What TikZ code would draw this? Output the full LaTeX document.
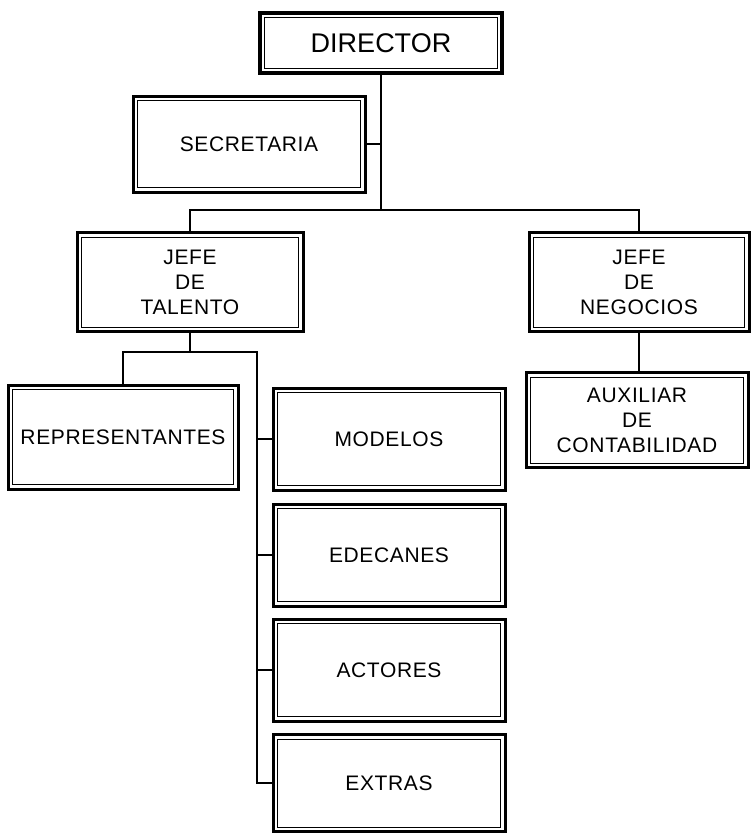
\documentclass[tikz,border=0pt]{standalone}
\usepackage{fontspec}
\setmainfont{Liberation Sans}
\newfontfamily\cajafont[LetterSpace=3]{Liberation Sans}
\begin{document}
\begin{tikzpicture}[x=1pt,y=-1pt,
		caja/.style={draw, line width=3pt, minimum width=230pt, minimum height=100pt, align=center, inner sep=0pt,
			font=\cajafont\fontsize{21}{25}\selectfont,
			path picture={\draw[line width=0.8pt] ([shift={(4.5pt,4.5pt)}]path picture bounding box.south west) rectangle ([shift={(-4.5pt,-4.5pt)}]path picture bounding box.north east);}},
		linea/.style={line width=1.1pt}]
		\useasboundingbox (0,0) rectangle (750,835);

		\node[caja, line width=3.6pt, minimum width=242pt, minimum height=60pt, font=\fontsize{27}{30}\selectfont] (director) at (381,43) {DIRECTOR};
		\node[caja, minimum width=232pt, minimum height=96pt] (secretaria) at (249,144) {SECRETARIA};
		\node[caja, minimum width=226pt, minimum height=99pt] (talento) at (190,282) {JEFE\\DE\\TALENTO};
		\node[caja, minimum width=220pt, minimum height=99pt] (negocios) at (639,282) {JEFE\\DE\\NEGOCIOS};
		\node[caja, minimum width=222pt, minimum height=95pt] (auxiliar) at (637,420) {AUXILIAR\\DE\\CONTABILIDAD};
		\node[caja, minimum height=104pt] (representantes) at (123,437) {REPRESENTANTES};
		\node[caja, minimum width=232pt, minimum height=102pt] (modelos) at (389,439) {MODELOS};
		\node[caja, minimum width=232pt, minimum height=102pt] (edecanes) at (389,555) {EDECANES};
		\node[caja, minimum width=232pt, minimum height=102pt] (actores) at (389,670) {ACTORES};
		\node[caja, minimum width=232pt, minimum height=97pt] (extras) at (389,783) {EXTRAS};

		\coordinate (barra) at (381,210);
		\coordinate (espina) at (257,352);

		\draw[linea] (director.south) -- (barra);
		\draw[linea] (secretaria.east) -- (secretaria.east -| director.south);
		\draw[linea] (talento.north) |- (barra) -| (negocios.north);
		\draw[linea] (negocios.south) -- (negocios.south |- auxiliar.north);
		\draw[linea] (talento.south) -- (talento.south |- espina);
		\draw[linea] (representantes.north) |- (espina) -- (espina |- extras.west) -- (extras.west);
		\foreach \n in {modelos,edecanes,actores}
			\draw[linea] (\n.west -| espina) -- (\n.west);
	\end{tikzpicture}
\end{document}
